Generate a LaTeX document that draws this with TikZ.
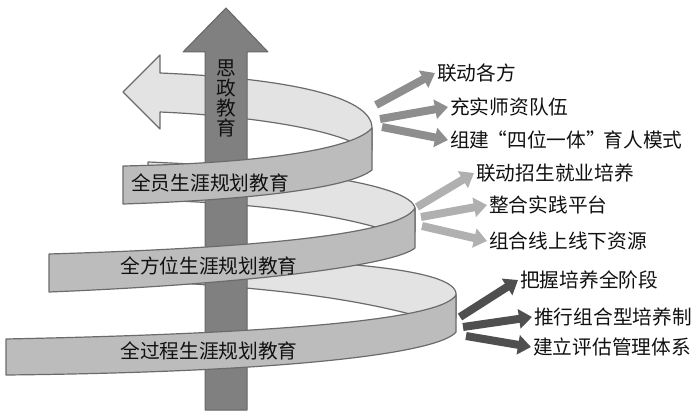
\documentclass[tikz,border=0pt]{standalone}
\usepackage{fontspec}
\setmainfont{Noto Sans CJK SC}
\usepackage{xcolor}
\usepackage{tikz}
\usetikzlibrary{arrows.meta,positioning}

\definecolor{backgray}{HTML}{E3E3E3}
\definecolor{frontgray}{HTML}{BCBCBC}
\definecolor{ribbonline}{HTML}{6B6B6B}
\definecolor{shaftgray}{HTML}{808080}
\definecolor{shaftline}{HTML}{666666}
\definecolor{fanmid}{HTML}{8E8E8E}
\definecolor{fanlight}{HTML}{B0B0B0}
\definecolor{fandark}{HTML}{4F4F4F}
\definecolor{inkgray}{HTML}{111111}

\newcommand{\lquote}{\makebox[0.9em][r]{“}}
\newcommand{\rquote}{\makebox[0.9em][l]{”}}

\begin{document}
\begin{tikzpicture}[x=1pt, y=-1pt,
    backpart/.style={draw=ribbonline, line width=1.2pt, fill=backgray, line join=round},
    frontpart/.style={draw=ribbonline, line width=1.2pt, fill=frontgray, line join=round},
    fan/.style={line width=8pt, -{Triangle[length=13pt,width=19pt]}},
    itemtext/.style={anchor=west, inner sep=2pt, text=inkgray, font=\fontsize{19.7}{20}\selectfont},
    bandtext/.style={inner sep=0pt, text=inkgray, font=\fontsize{19.7}{20}\selectfont}]
    \useasboundingbox (0,0) rectangle (696,414);

    % back halves of the spiral
    \draw [backpart] (160,112) -- (160,129) -- (123,92) -- (160,55) -- (160,73)
        .. controls (280,78) and (372,95) .. (372,128) -- (372,150) -- (352,142)
        .. controls (320,128) and (250,116) .. (160,112) -- cycle;
    \draw [backpart] (148,162) .. controls (300,168) and (410,185) .. (415,208)
        -- (415,232) -- (392,232)
        .. controls (340,215) and (260,203) .. (148,200) -- cycle;
    \draw [backpart] (120,256) .. controls (330,258) and (452,268) .. (456,293)
        -- (456,318) -- (425,318)
        .. controls (360,300) and (280,287) .. (120,280) -- cycle;

    % vertical arrow
    \draw [draw=shaftline, fill=shaftgray, line width=1pt, line join=round]
        (205,410) -- (205,52) -- (183,52) -- (226,8) -- (268,52) -- (247,52) -- (247,410) -- cycle;
    \node [bandtext, align=center, font=\fontsize{19.7}{19.7}\selectfont] (sz) at (226,98.5) {思\\政\\教\\育};

    % front halves of the spiral
    \draw [frontpart] (123,166) .. controls (270,163) and (355,148) .. (372,128)
        -- (372,170) .. controls (350,188) and (250,200) .. (123,204) -- cycle;
    \draw [frontpart] (49,254) .. controls (250,248) and (400,235) .. (415,208)
        -- (415,248) .. controls (395,265) and (250,284) .. (49,292) -- cycle;
    \draw [frontpart] (6,339) .. controls (250,334) and (440,322) .. (456,295)
        -- (456,332) .. controls (440,352) and (300,372) .. (6,375) -- cycle;

    \node [bandtext] (quanyuan) at (210,183) {全员生涯规划教育};
    \node [bandtext] (quanfang) at (209,266) {全方位生涯规划教育};
    \node [bandtext] (quanguo) at (209,351) {全过程生涯规划教育};

    % first turn
    \coordinate (s11) at (376,105);
    \coordinate (s12) at (380,119);
    \coordinate (s13) at (382,127);
    \node [itemtext] (t11) at (435,73) {联动各方};
    \node [itemtext] (t12) at (448,107) {充实师资队伍};
    \node [itemtext] (t13) at (448,140) {组建\lquote 四位一体\rquote 育人模式};
    \draw [fan, fanmid] (s11) -- (t11.west);
    \draw [fan, fanmid] (s12) -- (t12.west);
    \draw [fan, fanmid] (s13) -- (t13.west);

    % second turn
    \coordinate (s21) at (417,207);
    \coordinate (s22) at (421,217);
    \coordinate (s23) at (422,226);
    \node [itemtext] (t21) at (474,173) {联动招生就业培养};
    \node [itemtext] (t22) at (487,205) {整合实践平台};
    \node [itemtext] (t23) at (487,241) {组合线上线下资源};
    \draw [fan, fanlight] (s21) -- (t21.west);
    \draw [fan, fanlight] (s22) -- (t22.west);
    \draw [fan, fanlight] (s23) -- (t23.west);

    % third turn
    \coordinate (s31) at (460,317);
    \coordinate (s32) at (463,327);
    \coordinate (s33) at (466,336);
    \node [itemtext] (t31) at (518,280) {把握培养全阶段};
    \node [itemtext] (t32) at (532,317) {推行组合型培养制};
    \node [itemtext] (t33) at (531,347) {建立评估管理体系};
    \draw [fan, fandark] (s31) -- (t31.west);
    \draw [fan, fandark] (s32) -- (t32.west);
    \draw [fan, fandark] (s33) -- (t33.west);
\end{tikzpicture}
\end{document}
